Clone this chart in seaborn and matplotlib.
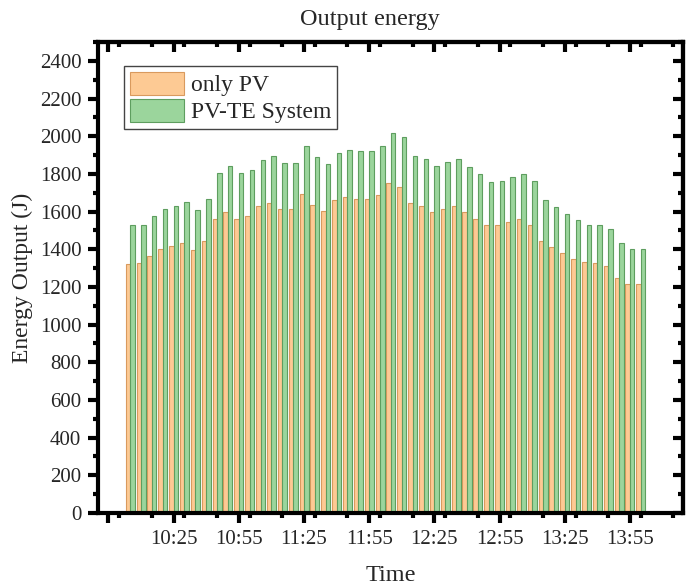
import matplotlib
matplotlib.use("Agg")
import matplotlib.pyplot as plt
from matplotlib.ticker import MultipleLocator, FixedLocator
from matplotlib.patches import Patch
import seaborn as sns
import pandas as pd

# ---------------- data ----------------
times = ["10:05", "10:10", "10:15", "10:20", "10:25", "10:30", "10:35", "10:40",
         "10:45", "10:50", "10:55", "11:00", "11:05", "11:10", "11:15", "11:20",
         "11:25", "11:30", "11:35", "11:40", "11:45", "11:50", "11:55", "12:00",
         "12:05", "12:10", "12:15", "12:20", "12:25", "12:30", "12:35", "12:40",
         "12:45", "12:50", "12:55", "13:00", "13:05", "13:10", "13:15", "13:20",
         "13:25", "13:30", "13:35", "13:40", "13:45", "13:50", "13:55", "14:00"]
only_pv = [1323, 1327, 1365, 1401, 1415, 1431, 1397, 1445, 1563, 1599, 1563, 1577,
           1629, 1645, 1611, 1611, 1694, 1637, 1604, 1661, 1675, 1669, 1669, 1689,
           1751, 1730, 1645, 1629, 1599, 1613, 1629, 1599, 1562, 1528, 1528, 1542,
           1562, 1528, 1443, 1411, 1380, 1348, 1330, 1327, 1311, 1245, 1215, 1215]
pv_te = [1528, 1528, 1574, 1613, 1630, 1652, 1609, 1666, 1804, 1844, 1804, 1820,
         1874, 1897, 1857, 1857, 1950, 1889, 1850, 1910, 1926, 1924, 1924, 1949,
         2016, 1995, 1897, 1878, 1843, 1862, 1878, 1837, 1800, 1758, 1761, 1781,
         1798, 1761, 1664, 1625, 1586, 1553, 1531, 1531, 1510, 1434, 1399, 1399]
series_names = ["only PV", "PV-TE System"]
tick_labels = ["", "10:25", "10:55", "11:25", "11:55", "12:25", "12:55", "13:25", "13:55"]
tick_times = ["9:55", "10:25", "10:55", "11:25", "11:55", "12:25", "12:55", "13:25", "13:55"]
y_ticks = list(range(0, 2401, 200))


def to_min(t):
    h, m = t.split(":")
    return int(h) * 60 + int(m)


minutes = [to_min(t) for t in times]
df = pd.DataFrame({
    "minute": minutes * 2,
    "energy": only_pv + pv_te,
    "series": [series_names[0]] * len(times) + [series_names[1]] * len(times),
})

face = {"only PV": "#FDCA94", "PV-TE System": "#9BD59C"}
edge = {"only PV": "#D99A5E", "PV-TE System": "#5E9E5F"}

# ---------------- style ----------------
sns.set_theme(style="white")
plt.rcParams["font.family"] = ["Liberation Serif", "DejaVu Serif"]

fig = plt.figure(figsize=(6.91, 5.87), dpi=100)
ax = fig.add_axes([98 / 691, 1 - 513 / 587, (683 - 98) / 691, (513 - 42) / 587])

sns.barplot(data=df, x="minute", y="energy", hue="series", native_scale=True,
            palette=face, saturation=1, width=0.83, errorbar=None, ax=ax,
            legend=False)

for cont, name in zip(ax.containers, series_names):
    for bar in cont:
        bar.set_edgecolor(edge[name])
        bar.set_linewidth(0.8)

ax.set_xlim(590.2, 859.4)
ax.set_ylim(0, 2500)

major_x = [to_min(t) for t in tick_times]
ax.xaxis.set_major_locator(FixedLocator(major_x))
ax.set_xticklabels(tick_labels)
ax.xaxis.set_minor_locator(MultipleLocator(15))
ax.yaxis.set_major_locator(FixedLocator(y_ticks))
ax.set_yticklabels([str(v) for v in y_ticks])
ax.yaxis.set_minor_locator(MultipleLocator(100))

for s in ax.spines.values():
    s.set_linewidth(3)
    s.set_color("black")

ax.tick_params(axis="both", which="major", direction="out", length=7, width=3,
               labelsize=15, pad=5, color="black", bottom=True, left=True)
ax.tick_params(axis="both", which="minor", direction="out", length=3.5, width=3,
               color="black", bottom=True, left=True)

# top and right: inward ticks, no labels
secx = ax.secondary_xaxis("top")
secx.xaxis.set_major_locator(FixedLocator(major_x))
secx.xaxis.set_minor_locator(MultipleLocator(15))
secx.tick_params(axis="x", which="major", direction="in", length=7, width=3,
                 labeltop=False, color="black")
secx.tick_params(axis="x", which="minor", direction="in", length=3.5, width=3,
                 color="black")
secx.spines["top"].set_linewidth(3)

secy = ax.secondary_yaxis("right")
secy.yaxis.set_major_locator(FixedLocator(y_ticks))
secy.yaxis.set_minor_locator(MultipleLocator(100))
secy.tick_params(axis="y", which="major", direction="in", length=7, width=3,
                 labelright=False, color="black")
secy.tick_params(axis="y", which="minor", direction="in", length=3.5, width=3,
                 color="black")
secy.spines["right"].set_linewidth(3)

ax.set_xlabel("Time", fontsize=17.5, labelpad=12)
ax.set_ylabel("Energy Output (J)", fontsize=17, labelpad=5)
ax.set_title("Output energy", fontsize=17.5, pad=12, x=0.464)

handles = [Patch(facecolor=face[n], edgecolor=edge[n], linewidth=0.8) for n in series_names]
leg = ax.legend(handles, series_names, loc="upper left", bbox_to_anchor=(0.044, 0.949),
                borderaxespad=0, fontsize=17, frameon=True, fancybox=False,
                framealpha=1, edgecolor="#444444", handlelength=2.3, handleheight=1.1,
                labelspacing=0.12, borderpad=0.25, handletextpad=0.3)
leg.get_frame().set_linewidth(1.0)

fig.savefig("out.png", dpi=100)
